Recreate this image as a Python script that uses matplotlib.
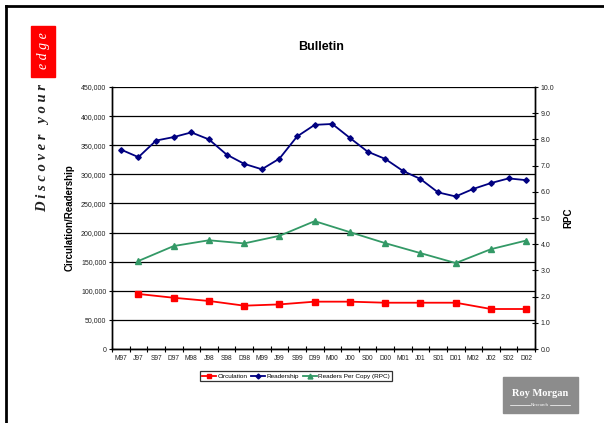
import matplotlib
matplotlib.use("Agg")
import matplotlib.pyplot as plt
from matplotlib.patches import Rectangle
from matplotlib.lines import Line2D
import numpy as np

categories = ["M97", "J97", "S97", "D97", "M98", "J98", "S98", "D98", "M99", "J99", "S99", "D99",
              "M00", "J00", "S00", "D00", "M01", "J01", "S01", "D01", "M02", "J02", "S02", "D02"]
readership = [342600, 329500, 358000, 364000, 372000, 360000, 334000, 318000, 308700, 327000, 365000, 385000,
              386500, 362500, 339000, 326500, 306000, 292000, 269000, 262000, 275000, 285000, 293000, 290000]
circulation = [None, 94500, None, 88000, None, 82500, None, 74400, None, 76600, None, 81300,
               None, 81300, None, 79500, None, 79500, None, 79500, None, 68700, None, 68700]
rpc = [None, 3.36, None, 3.93, None, 4.15, None, 4.03, None, 4.32, None, 4.88,
       None, 4.46, None, 4.04, None, 3.66, None, 3.28, None, 3.81, None, 4.14]
left_ticks = [0, 50000, 100000, 150000, 200000, 250000, 300000, 350000, 400000, 450000]
right_ticks = [0, 1, 2, 3, 4, 5, 6, 7, 8, 9, 10]

W, H = 604, 423
fig = plt.figure(figsize=(W / 100, H / 100), dpi=100)
plt.rcParams['font.family'] = ['Liberation Sans', 'DejaVu Sans']

ax = fig.add_axes([112 / W, 1 - 349 / H, (535 - 112) / W, (349 - 87) / H])
ax2 = ax.twinx()

x = np.arange(len(categories))

def pts(vals):
    xs = [i for i, v in enumerate(vals) if v is not None]
    ys = [v for v in vals if v is not None]
    return xs, ys

cx, cy = pts(circulation)
rx, ry = pts(rpc)

ax.plot(x, readership, color="#000080", lw=1.3, marker="D", ms=2.8, zorder=5)
ax.plot(cx, cy, color="#FF0000", lw=1.3, marker="s", ms=4, zorder=5)
ax2.plot(rx, ry, color="#339966", lw=1.3, marker="^", ms=4, zorder=5)

ax.set_xlim(-0.5, len(categories) - 0.5)
ax.set_ylim(0, 450000)
ax2.set_ylim(0, 10)

ax.set_yticks(left_ticks)
ax.set_yticklabels([f"{v:,}" for v in left_ticks], fontsize=5, color="#222222")
ax2.set_yticks(right_ticks)
ax2.set_yticklabels([f"{v:.1f}" for v in right_ticks], fontsize=5, color="#222222")

ax.set_xticks(x)
ax.set_xticklabels(categories, fontsize=4.8, color="#222222")
ax.set_xticks(np.arange(-0.5, len(categories), 1), minor=True)
ax.tick_params(axis="x", which="major", length=0, pad=4)
ax.tick_params(axis="x", which="minor", length=4, direction="inout", width=0.8)
ax.tick_params(axis="y", length=4, direction="inout", width=0.8, pad=2)
ax2.tick_params(axis="y", length=4, direction="inout", width=0.8, pad=2)

ax.grid(axis="y", color="black", lw=0.9)
ax.set_axisbelow(True)
for s in ["top"]:
    ax.spines[s].set_visible(False)
    ax2.spines[s].set_visible(False)
for a in (ax, ax2):
    for s in ["left", "right", "bottom"]:
        a.spines[s].set_linewidth(1.0)

ax.set_ylabel("Circulation/Readership", fontsize=7, fontweight="bold")
ax.yaxis.set_label_coords((75 - 112) / 423, 0.5)
ax2.set_ylabel("RPC", fontsize=7, fontweight="bold")
ax2.yaxis.set_label_coords((563 - 112) / 423, 0.5)

fig.text(321 / W, 1 - 47 / H, "Bulletin", ha="center", va="center", fontsize=9, fontweight="bold")

handles = [Line2D([], [], color="#FF0000", lw=1.3, marker="s", ms=3.5),
           Line2D([], [], color="#000080", lw=1.3, marker="D", ms=2.5),
           Line2D([], [], color="#339966", lw=1.3, marker="^", ms=3.5)]
leg = fig.legend(handles, ["Circulation", "Readership", "Readers Per Copy (RPC)"],
                 loc="center", bbox_to_anchor=(296 / W, 1 - 376 / H), ncol=3, fontsize=4.6,
                 frameon=True, fancybox=False, edgecolor="black", handlelength=2.2,
                 handletextpad=0.2, columnspacing=0.6, borderpad=0.35)
leg.get_frame().set_linewidth(0.9)

# frame lines
fig.add_artist(Line2D([5.5 / W, 5.5 / W], [0, 1 - 6.5 / H], color="black", lw=2, transform=fig.transFigure))
fig.add_artist(Line2D([5.5 / W, 1], [1 - 6.5 / H, 1 - 6.5 / H], color="black", lw=2, transform=fig.transFigure))

# Discover your edge
fig.add_artist(Rectangle((31 / W, 1 - 77 / H), 24 / W, 51 / H, color="#FF0000", transform=fig.transFigure))
fig.text(43 / W, 1 - 51 / H, "e d g e", rotation=90, ha="center", va="center", color="white",
         fontsize=10, style="italic", family=["Liberation Serif"])
fig.text(43 / W, 1 - 148 / H, "D i s c o v e r   y o u r", rotation=90, ha="center", va="center",
         color="#222222", fontsize=10.5, style="italic", fontweight="bold", family=["Liberation Serif"])

# logo
fig.add_artist(Rectangle((503 / W, 1 - 413 / H), 75 / W, 36 / H, color="#8c8c8c", transform=fig.transFigure))
fig.text(540 / W, 1 - 393 / H, "Roy Morgan", ha="center", va="center", color="white", fontsize=7.5,
         fontweight="bold", family=["Liberation Serif"])
fig.text(540 / W, 1 - 405 / H, "Research", ha="center", va="center", color="white", fontsize=3.5,
         family=["Liberation Serif"])
fig.add_artist(Line2D([510 / W, 530 / W], [1 - 405 / H] * 2, color="white", lw=0.5, transform=fig.transFigure))
fig.add_artist(Line2D([550 / W, 570 / W], [1 - 405 / H] * 2, color="white", lw=0.5, transform=fig.transFigure))

fig.savefig("out.png", dpi=100)
